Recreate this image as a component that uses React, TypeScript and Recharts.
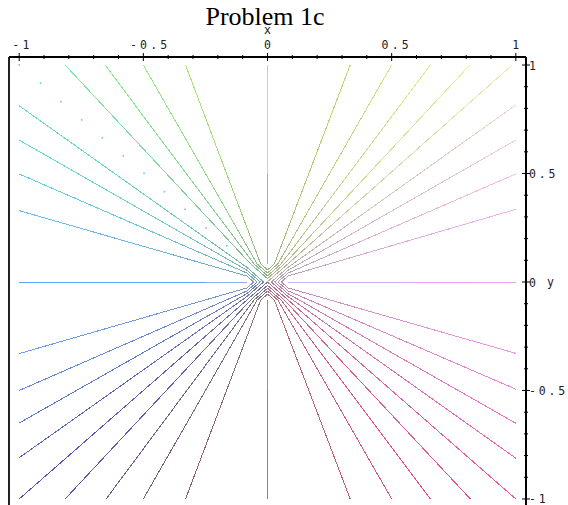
import React from 'react';
import { ComposedChart, Line, Scatter, XAxis, YAxis, ReferenceLine } from 'recharts';

// ---------- axes ----------
const xDomain: [number, number] = [-1.041, 1.041];
const yDomain: [number, number] = [-1.037, 1.037];
const minorTicks = [
  -1, -0.9, -0.8, -0.7, -0.6, -0.5, -0.4, -0.3, -0.2, -0.1, 0,
  0.1, 0.2, 0.3, 0.4, 0.5, 0.6, 0.7, 0.8, 0.9, 1,
];
const majorTicks = [-1, -0.5, 0, 0.5, 1];
const majorLabels = ['-1', '-0.5', '0', '0.5', '1'];

// ---------- contour lines ----------
// where each level curve leaves the plotting box (counter-clockwise from +x)
const rayEndX = [
  1, 1, 1, 1, 0.985, 0.815, 0.656, 0.5, 0.333,
  -0.33, -0.5, -0.654, -0.815, -1, -1, -1, -1,
  -1, -1, -1, -1, -1, -0.815, -0.65, -0.5, -0.33,
  0.333, 0.5, 0.656, 0.817, 1, 1, 1, 1, 1,
];
const rayEndY = [
  0.335, 0.498, 0.654, 0.816, 1, 1, 1, 1, 1,
  1, 1, 1, 1, 0.812, 0.654, 0.498, 0.329,
  -0.33, -0.5, -0.65, -0.81, -1, -1, -1, -1, -1,
  -1, -1, -1, -1, -1, -0.812, -0.651, -0.494, -0.329,
];
const rayColors = [
  '#f0b4ee', '#f2c0e6', '#f0cadc', '#eed6c8', '#eeeab0', '#e6f0a0', '#d8ee90', '#c8e87c', '#b8e06c',
  '#a4ea74', '#94ee80', '#86ee90', '#7ceaa2', '#64e2cc', '#64dcdc', '#62d0ee', '#66c0f8',
  '#6c9cf4', '#6088e4', '#5874d4', '#5462c4', '#5052b4', '#5c54a8', '#6c5894', '#7c5c80', '#8c6068',
  '#c05c68', '#d45478', '#e05088', '#e85298', '#ee56a8', '#f064b8', '#f072c8', '#f082d8', '#f094e6',
];

// level curves lying on the axes, coloured piece by piece
const axisRightX = [0.083, 0.25, 0.59, 0.83, 1];
const axisRightColors = ['#c4b8f8', '#d2aaf2', '#e4a2f0', '#f0a0f0'];
const axisLeftX = [-0.083, -0.25, -1];
const axisLeftColors = ['#90b0f4', '#5aa4fa'];
const axisTopY = [0.083, 0.5, 1];
const axisTopColors = ['#b0b488', '#c4d4b4'];
const axisBottomY = [-0.083, -0.5, -1];
const axisBottomColors = ['#a89058', '#a87c5c'];

// level 0.5 in the upper-left quadrant only shows up at mesh nodes
const dotX = [-1, -0.914, -0.832, -0.748, -0.665, -0.581, -0.497, -0.415, -0.332, -0.247, -0.164];
const dotY = [1, 0.916, 0.831, 0.747, 0.665, 0.582, 0.501, 0.416, 0.335, 0.25, 0.167];

// mesh spacing of the contouring grid (25 x 25 points on [-1,1]^2)
const CELL = 1 / 12;

type Pt = { x: number; y: number };

// A level curve: straight from the box edge to the central mesh cell,
// then at 45 degrees onto the axis (nested chevrons round the origin).
function rayPoints(ex: number, ey: number): Pt[] {
  const sx = Math.sign(ex);
  const sy = Math.sign(ey);
  const ax = Math.abs(ex);
  const ay = Math.abs(ey);
  const s = Math.max(ax, ay);
  const m = Math.min(ax, ay) / s;
  if (ax >= ay) {
    return [
      { x: sx * CELL * (1 - m), y: 0 },
      { x: sx * CELL, y: sy * CELL * m },
      { x: ex, y: ey },
    ];
  }
  return [
    { x: 0, y: sy * CELL * (1 - m) },
    { x: sx * CELL * m, y: sy * CELL },
    { x: ex, y: ey },
  ];
}

function mix(a: string, b: string, t: number): string {
  const pa = [1, 3, 5].map((i) => parseInt(a.slice(i, i + 2), 16));
  const pb = [1, 3, 5].map((i) => parseInt(b.slice(i, i + 2), 16));
  return (
    '#' +
    pa
      .map((v, i) => Math.round(v + (pb[i] - v) * t).toString(16).padStart(2, '0'))
      .join('')
  );
}

const rays = rayEndX.map((ex, i) => ({
  id: `ray${i}`,
  ex,
  ey: rayEndY[i],
  color: rayColors[i],
  points: rayPoints(ex, rayEndY[i]),
}));

function segments(values: number[], colors: string[], horizontal: boolean) {
  return colors.map((c, i) => ({
    color: c,
    points: horizontal
      ? [{ x: values[i], y: 0 }, { x: values[i + 1], y: 0 }]
      : [{ x: 0, y: values[i] }, { x: 0, y: values[i + 1] }],
  }));
}

const axisSegments = [
  ...segments(axisRightX, axisRightColors, true),
  ...segments(axisLeftX, axisLeftColors, true),
  ...segments(axisTopY, axisTopColors, false),
  ...segments(axisBottomY, axisBottomColors, false),
];

const dots = dotX.map((x, i) => ({ x, y: dotY[i] }));

const MONO = '"DejaVu Sans Mono", monospace';

function majorIndex(v: number) {
  return majorTicks.findIndex((t) => Math.abs(t - v) < 1e-6);
}

const TopTick = (props: any) => {
  const { x, y, payload } = props;
  const k = majorIndex(payload.value);
  const len = k >= 0 ? 4 : 2;
  const label = k >= 0 ? majorLabels[k] : '';
  return (
    <g>
      <line x1={x} x2={x} y1={y - len} y2={y + len} stroke="#000" strokeWidth={1} />
      {label && (
        <text
          x={x + 1.5 + 1.8 * (label.length - 1)}
          y={y - 8.5}
          textAnchor="middle"
          fontFamily={MONO}
          fontSize={11.5}
          letterSpacing={3.2}
          fill="#222"
        >
          {label}
        </text>
      )}
    </g>
  );
};

const RightTick = (props: any) => {
  const { x, y, payload } = props;
  const k = majorIndex(payload.value);
  const len = k >= 0 ? 4 : 2;
  const label = k >= 0 ? majorLabels[k] : '';
  return (
    <g>
      <line x1={x - len} x2={x + len} y1={y} y2={y} stroke="#000" strokeWidth={1} />
      {label && (
        <text
          x={x + 3}
          y={y + 4.5}
          textAnchor="start"
          fontFamily={MONO}
          fontSize={11.5}
          letterSpacing={2.8}
          fill="#222"
        >
          {label}
        </text>
      )}
    </g>
  );
};

export default function App() {
  return (
    <div
      style={{
        position: 'absolute',
        left: 0,
        top: 0,
        width: 568,
        height: 505,
        overflow: 'hidden',
        background: '#fff',
      }}
    >
      <style>{'.recharts-line-curve { shape-rendering: crispEdges; }'}</style>
      <ComposedChart
        width={568}
        height={507}
        margin={{ top: 27, right: 12, bottom: 0, left: 9 }}
      >
        <defs>
          {rays.map((r) => {
            const x1 = r.ex > 0 ? 0 : 1;
            const y1 = r.ey > 0 ? 1 : 0;
            return (
              <linearGradient key={r.id} id={r.id} x1={x1} y1={y1} x2={1 - x1} y2={1 - y1}>
                <stop offset="0%" stopColor={mix(r.color, '#8c8c8c', 0.6)} />
                <stop offset="35%" stopColor={mix(r.color, '#8c8c8c', 0.28)} />
                <stop offset="100%" stopColor={r.color} />
              </linearGradient>
            );
          })}
        </defs>
        <XAxis
          dataKey="x"
          type="number"
          orientation="top"
          domain={xDomain}
          allowDataOverflow
          ticks={minorTicks}
          interval={0}
          height={30}
          tickSize={0}
          tickMargin={0}
          tickLine={false}
          tick={<TopTick />}
          axisLine={{ stroke: '#000', strokeWidth: 2 }}
        />
        <YAxis
          dataKey="y"
          type="number"
          orientation="right"
          domain={yDomain}
          allowDataOverflow
          ticks={minorTicks}
          interval={0}
          width={30}
          tickSize={0}
          tickMargin={0}
          tickLine={false}
          tick={<RightTick />}
          axisLine={{ stroke: '#000', strokeWidth: 2 }}
        />
        <ReferenceLine x={xDomain[0]} stroke="#222" strokeWidth={2} ifOverflow="visible" />

        {axisSegments.map((s, i) => (
          <Line
            key={`axis${i}`}
            data={s.points}
            dataKey="y"
            type="linear"
            stroke={s.color}
            strokeWidth={1}
            dot={false}
            activeDot={false}
            isAnimationActive={false}
          />
        ))}
        {rays.map((r) => (
          <Line
            key={r.id}
            data={r.points}
            dataKey="y"
            type="linear"
            stroke={`url(#${r.id})`}
            strokeWidth={1}
            dot={false}
            activeDot={false}
            isAnimationActive={false}
          />
        ))}
        <Scatter
          data={dots}
          dataKey="y"
          isAnimationActive={false}
          shape={(p: any) => (
            <rect x={p.cx - 0.8} y={p.cy - 0.8} width={1.6} height={1.6} fill="#6ccac6" />
          )}
        />
      </ComposedChart>
      <svg
        width={568}
        height={505}
        style={{ position: 'absolute', left: 0, top: 0, pointerEvents: 'none' }}
      >
        <text
          x={265}
          y={25}
          textAnchor="middle"
          fontFamily='"Liberation Serif", "Times New Roman", serif'
          fontSize={26}
          fill="#000"
        >
          Problem 1c
        </text>
        <text x={267.5} y={33.5} textAnchor="middle" fontFamily={MONO} fontSize={11.5} fill="#222">
          x
        </text>
        <text x={547} y={286} textAnchor="start" fontFamily={MONO} fontSize={11.5} fill="#222">
          y
        </text>
      </svg>
    </div>
  );
}
